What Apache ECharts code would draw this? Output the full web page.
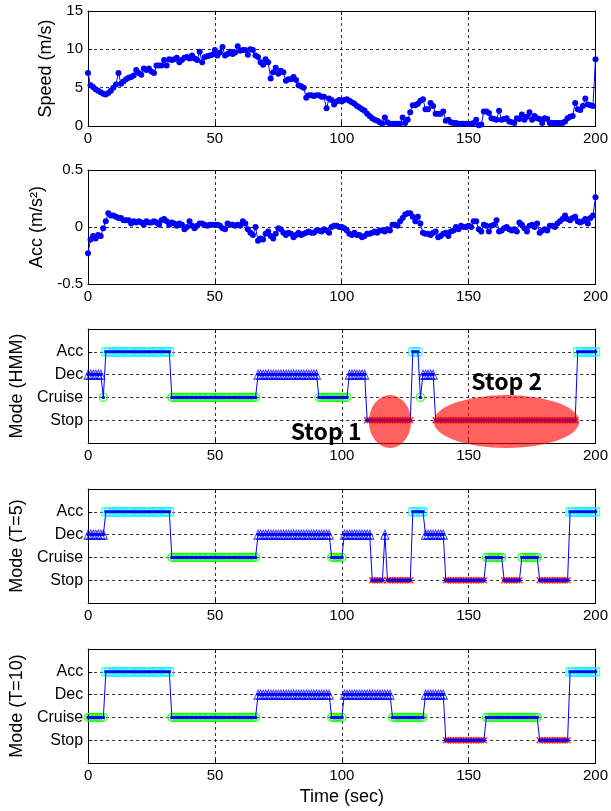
<!DOCTYPE html>
<html><head><meta charset="utf-8">
<script src="https://cdn.jsdelivr.net/npm/echarts@6/dist/echarts.min.js"></script>
<style>html,body{margin:0;padding:0;background:#fff}#c{width:611px;height:811px}</style>
</head><body><div id="c"></div>
<script>
// ---------- data ----------
const speed = [6.9,5.3,5.1,4.8,4.6,4.4,4.2,4.1,4.3,4.6,
5.0,5.4,6.9,5.5,5.8,6.1,6.3,6.4,6.6,7.3,
6.9,6.7,7.5,7.3,7.5,7.1,6.9,7.9,7.9,7.9,
8.6,7.9,8.7,8.6,8.7,8.9,8.3,8.6,8.9,9.0,
8.8,9.2,8.8,8.6,9.7,8.3,9.0,9.1,9.2,9.3,
9.9,9.2,9.6,10.3,9.2,9.4,9.7,9.4,9.6,10.4,
9.8,9.9,9.9,9.3,10.0,9.9,9.2,9.0,8.3,8.0,
8.7,8.3,6.2,7.0,7.6,6.8,7.2,7.0,5.9,6.1,
6.1,6.4,6.0,5.3,5.2,5.0,3.7,4.0,4.0,3.9,
4.0,4.0,3.8,3.8,2.3,3.6,3.4,2.8,3.2,3.4,
3.2,3.4,3.5,3.3,3.1,2.9,2.6,2.4,2.2,2.0,
1.6,1.3,1.0,0.8,0.7,0.5,0.3,1.1,0.5,0.3,
0.3,0.3,0.3,0.3,1.1,0.4,0.8,1.8,2.7,2.7,
2.9,3.3,3.5,2.2,2.2,3.0,2.6,1.6,1.6,1.6,
1.9,0.7,0.8,0.5,0.4,0.4,0.3,0.3,0.3,0.3,
0.3,0.3,0.4,0.8,0.1,0.2,1.9,1.9,1.7,1.0,
0.9,0.8,2.0,0.8,0.9,1.0,0.6,0.5,0.4,1.0,
0.9,1.5,0.8,1.2,1.8,0.8,1.3,1.0,0.9,0.4,
1.0,0.9,0.4,0.4,0.4,0.4,0.4,0.4,0.6,1.0,
1.2,1.3,3.0,2.2,2.1,2.6,3.6,2.8,2.7,2.6,
8.7];

const acc = [-0.23,-0.11,-0.08,-0.10,-0.07,-0.08,-0.01,0.05,0.12,0.10,
0.10,0.09,0.08,0.08,0.06,0.06,0.06,0.03,0.05,0.04,
0.05,0.04,0.02,0.05,0.04,0.04,0.05,0.04,0.02,0.06,
0.07,0.05,0.02,0.04,0.03,0.01,0.03,0.02,-0.02,0.00,
0.05,0.01,-0.01,0.01,0.03,0.03,0.02,0.01,0.02,0.02,
0.02,0.02,0.01,-0.01,-0.02,0.03,0.02,0.02,0.01,0.02,
0.01,0.05,0.03,-0.02,-0.05,-0.07,0.00,-0.12,-0.10,-0.11,
-0.06,-0.04,-0.08,-0.10,-0.06,-0.01,-0.02,-0.05,-0.07,-0.05,
-0.06,-0.09,-0.07,-0.05,-0.07,-0.06,-0.05,-0.04,-0.05,-0.05,
-0.03,-0.03,-0.04,-0.02,-0.03,-0.05,0.00,0.01,0.01,0.00,
0.00,-0.01,-0.03,-0.06,-0.07,-0.05,-0.07,-0.07,-0.09,-0.08,
-0.06,-0.06,-0.05,-0.04,-0.05,-0.03,-0.03,-0.04,-0.02,-0.03,
0.02,0.02,0.01,0.05,0.08,0.11,0.12,0.12,0.09,0.05,
0.09,0.03,-0.05,-0.06,-0.06,-0.07,-0.05,-0.04,-0.09,-0.08,
-0.06,-0.05,-0.08,-0.04,-0.03,0.00,-0.02,0.01,0.00,0.00,
0.01,0.00,0.05,0.05,-0.02,-0.04,0.02,0.01,-0.04,0.01,
0.02,0.06,-0.04,-0.03,-0.01,0.00,-0.02,-0.03,-0.02,-0.04,
0.04,0.02,-0.01,-0.04,0.01,0.02,0.00,0.03,-0.05,-0.03,
-0.02,-0.03,0.01,0.01,0.00,0.03,0.05,0.07,0.10,0.07,
0.06,0.08,0.09,0.05,0.04,0.05,0.07,0.03,0.08,0.10,
0.26];

const modeNames = ['Stop','Cruise','Dec','Acc'];   // levels 1..4
const xTicks = [0,50,100,150,200];

// mode runs: [startSec, endSec, mode]
const hmmRuns = [[0,5,'Dec'],[6,6,'Cruise'],[7,32,'Acc'],[33,66,'Cruise'],[67,90,'Dec'],
  [91,102,'Cruise'],[103,109,'Dec'],[110,127,'Stop'],[128,130,'Acc'],[131,131,'Cruise'],
  [132,136,'Dec'],[137,192,'Stop'],[193,200,'Acc']];
const t5Runs = [[0,6,'Dec'],[7,32,'Acc'],[33,66,'Cruise'],[67,95,'Dec'],[96,100,'Cruise'],
  [101,111,'Dec'],[112,116,'Stop'],[117,117,'Dec'],[118,127,'Stop'],[128,132,'Acc'],
  [133,140,'Dec'],[141,156,'Stop'],[157,163,'Cruise'],[164,170,'Stop'],[171,177,'Cruise'],
  [178,189,'Stop'],[190,200,'Acc']];
const t10Runs = [[0,6,'Cruise'],[7,32,'Acc'],[33,66,'Cruise'],[67,95,'Dec'],[96,100,'Cruise'],
  [101,119,'Dec'],[120,132,'Cruise'],[133,140,'Dec'],[141,156,'Stop'],[157,177,'Cruise'],
  [178,189,'Stop'],[190,200,'Acc']];

// annotations on HMM panel: [centerSec, centerMode, radiusSec, radiusMode]
const stopEllipses = [[119,0.94,8.3,1.16],[164.9,0.94,28.7,1.16]];
const stopLabels = [[93.8,0.5,'Stop 1'],[165,2.72,'Stop 2']];

// ---------- chart ----------
const FONT = '"Liberation Sans", Arial, sans-serif';
const chart = echarts.init(document.getElementById('c'), null, {renderer:'canvas'});
const level = {Stop:1, Cruise:2, Dec:3, Acc:4};
function expand(runs){const o=[];runs.forEach(r=>{for(let t=r[0];t<=r[1];t++)o.push([t,level[r[2]],r[2]]);});return o;}

const panels = [
  {top:11, height:115, yMin:0, yMax:15, yInt:5, name:'Speed (m/s)', gap:32, fmt:v=>String(v), mode:false},
  {top:170, height:114, yMin:-0.5, yMax:0.5, yInt:0.5, name:'Acc (m/s²)', gap:41, fmt:v=>String(v), mode:false},
  {top:329, height:114, yMin:0, yMax:5, yInt:1, name:'Mode (HMM)', gap:61, fmt:v=>modeNames[v-1]||'', mode:true},
  {top:489, height:114, yMin:0, yMax:5, yInt:1, name:'Mode (T=5)', gap:61, fmt:v=>modeNames[v-1]||'', mode:true},
  {top:649, height:114, yMin:0, yMax:5, yInt:1, name:'Mode (T=10)', gap:61, fmt:v=>modeNames[v-1]||'', mode:true}
];
const gridDash = {color:'#333', width:1, type:[3,3]};
const grid=[], xAxis=[], yAxis=[], series=[];
panels.forEach((p,i)=>{
  grid.push({left:88, right:14, top:p.top, height:p.height});
  xAxis.push({gridIndex:i, type:'value', min:xTicks[0], max:xTicks[xTicks.length-1], interval:xTicks[1]-xTicks[0],
    axisLine:{show:true,onZero:false,lineStyle:{color:'#000',width:1}},
    axisTick:{show:true,inside:true,length:4,lineStyle:{color:'#000'}},
    axisLabel:{show:true,color:'#000',fontSize:15,fontFamily:FONT,margin:5},
    splitLine:{show:true,showMinLine:false,showMaxLine:false,lineStyle:gridDash},
    name: i===4 ? 'Time (sec)' : '', nameLocation:'middle', nameGap:25,
    nameTextStyle:{color:'#000',fontSize:18,fontFamily:FONT}});
  xAxis.push({gridIndex:i, type:'value', position:'top', min:xTicks[0], max:xTicks[xTicks.length-1], interval:xTicks[1]-xTicks[0],
    axisLine:{show:true,onZero:false,lineStyle:{color:'#000',width:1}},
    axisTick:{show:true,inside:true,length:4,lineStyle:{color:'#000'}},
    axisLabel:{show:false}, splitLine:{show:false}});
  yAxis.push({gridIndex:i, type:'value', min:p.yMin, max:p.yMax, interval:p.yInt,
    axisLine:{show:true,onZero:false,lineStyle:{color:'#000',width:1}},
    axisTick:{show:true,inside:true,length:4,lineStyle:{color:'#000'}},
    axisLabel:{show:true,color:'#000',fontSize:p.mode?16:15,fontFamily:FONT,margin:5,formatter:p.fmt},
    splitLine:{show:true,showMinLine:false,showMaxLine:false,lineStyle:gridDash},
    name:p.name, nameLocation:'middle', nameGap:p.gap,
    nameTextStyle:{color:'#000',fontSize:18,fontFamily:FONT}});
  yAxis.push({gridIndex:i, type:'value', position:'right', min:p.yMin, max:p.yMax, interval:p.yInt,
    axisLine:{show:true,onZero:false,lineStyle:{color:'#000',width:1}},
    axisTick:{show:true,inside:true,length:4,lineStyle:{color:'#000'}},
    axisLabel:{show:false}, splitLine:{show:false}});
});

function lineSeries(idx, data, size){
  return {type:'line', xAxisIndex:2*idx, yAxisIndex:2*idx, data:data, symbol:'circle', symbolSize:size,
    showAllSymbol:true, color:'#0000ff', itemStyle:{color:'#0000ff'}, lineStyle:{color:'#0000ff',width:1},
    z:4, animation:false, silent:true};
}
series.push(lineSeries(0, speed.map((v,t)=>[t,v]), 6));
series.push(lineSeries(1, acc.map((v,t)=>[t,v]), 6));

const markerStyle = {
  Acc:{symbol:'rect', size:8, item:{color:'rgba(0,0,0,0)', borderColor:'#00ffff', borderWidth:1.2}},
  Dec:{symbol:'triangle', size:[8,9], item:{color:'rgba(0,0,0,0)', borderColor:'#0000ff', borderWidth:1}},
  Cruise:{symbol:'circle', size:8, item:{color:'rgba(0,0,0,0)', borderColor:'#00ff00', borderWidth:1.3}},
  Stop:{symbol:'path://M0,0L10,10M10,0L0,10', size:6, item:{color:'rgba(0,0,0,0)', borderColor:'#ff0000', borderWidth:1.6}}
};
[hmmRuns,t5Runs,t10Runs].forEach((runs,k)=>{
  const idx = k+2;
  const pts = expand(runs);
  Object.keys(markerStyle).forEach(m=>{
    const s = markerStyle[m];
    series.push({type:'scatter', xAxisIndex:2*idx, yAxisIndex:2*idx,
      data: pts.filter(p=>p[2]===m).map(p=>[p[0],p[1]]),
      symbol:s.symbol, symbolSize:s.size, itemStyle:s.item, z:3, animation:false, silent:true});
  });
  series.push(lineSeries(idx, pts.map(p=>[p[0],p[1]]), 3.5));
});

// ellipses
series.push({type:'custom', xAxisIndex:4, yAxisIndex:4, clip:false, z:6, animation:false, silent:true,
  data: stopEllipses,
  renderItem:(params, api)=>{
    const c = api.coord([api.value(0), api.value(1)]);
    const s = api.size([api.value(2), api.value(3)]);
    return {type:'circle', x:c[0], y:c[1], scaleX:s[0]/s[1], scaleY:1,
      shape:{cx:0, cy:0, r:s[1]}, style:{fill:'rgba(255,0,0,0.62)'}};
  }});
series.push({type:'custom', xAxisIndex:4, yAxisIndex:4, clip:false, z:7, animation:false, silent:true,
  data: stopLabels,
  renderItem:(params, api)=>{
    const c = api.coord([api.value(0), api.value(1)]);
    return {type:'text', x:c[0], y:c[1],
      style:{text:stopLabels[params.dataIndex][2], fill:'#000', fontSize:23, fontWeight:'bold',
        fontFamily:'"Noto Sans CJK KR", "Noto Sans", sans-serif', align:'center', verticalAlign:'middle'}};
  }});

chart.setOption({animation:false, backgroundColor:'#fff', grid, xAxis, yAxis, series});
</script>
</body></html>
